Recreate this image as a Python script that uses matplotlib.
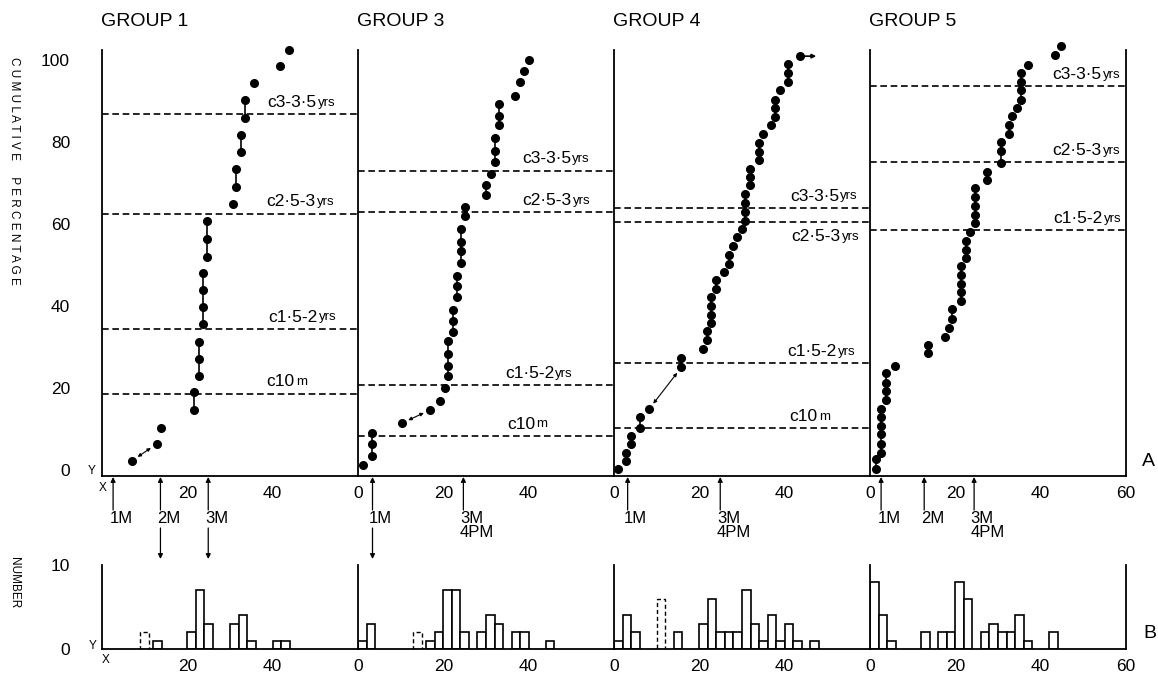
import matplotlib.pyplot as plt
from matplotlib.transforms import blended_transform_factory

plt.rcParams['font.family'] = ['Liberation Sans', 'DejaVu Sans']

# --- data -----------------------------------------------------------------
groups = ['GROUP 1', 'GROUP 3', 'GROUP 4', 'GROUP 5']

# A: cumulative percentage against age (months)
g1_age = [7.0, 12.8, 13.8, 21.6, 21.6, 22.8, 22.8, 22.8, 23.7, 23.7, 23.7, 23.7,
          24.7, 24.7, 24.7, 30.6, 31.5, 31.5, 32.6, 32.6, 33.6, 33.6, 35.6, 41.7, 43.9]
g1_cum = [2.2, 6.3, 10.3, 14.6, 18.9, 23.0, 27.0, 31.3, 35.6, 39.8, 43.9, 47.9,
          52.0, 56.3, 60.6, 64.9, 69.1, 73.4, 77.5, 81.7, 85.8, 90.1, 94.3, 98.4, 102.5]

g3_age = [1.1, 3.3, 3.3, 3.3, 10.3, 16.9, 19.3, 20.3, 21.2, 21.2, 21.2, 21.2,
          22.2, 22.2, 22.2, 23.2, 23.2, 23.2, 24.2, 24.2, 24.2, 24.2, 25.1, 25.1,
          30.0, 30.0, 31.2, 32.0, 32.0, 32.0, 33.0, 33.0, 33.0, 36.8, 38.0, 39.0, 40.0]
g3_cum = [1.1, 3.3, 6.3, 9.1, 11.4, 14.6, 16.8, 19.9, 23.0, 25.4, 28.3, 31.5,
          33.7, 36.4, 39.1, 42.1, 44.8, 47.4, 50.5, 53.3, 55.5, 58.7, 61.8, 64.1,
          67.1, 69.5, 72.2, 75.2, 77.7, 80.9, 84.0, 86.2, 89.3, 91.2, 94.5, 97.4, 99.9]

g4_age = [1.0, 2.8, 2.8, 3.9, 3.9, 6.0, 6.0, 8.2, 15.8, 15.8, 20.9, 21.9, 21.9,
          22.8, 22.8, 22.8, 22.8, 23.8, 23.8, 25.8, 26.9, 26.9, 27.9, 28.9, 29.9,
          30.8, 30.8, 30.8, 30.8, 31.8, 31.8, 31.8, 33.9, 33.9, 33.9, 34.9, 36.9,
          37.8, 37.8, 37.8, 38.8, 40.8, 40.8, 40.8, 43.7]
g4_cum = [0.2, 2.2, 4.2, 6.3, 8.3, 10.3, 12.8, 14.8, 25.0, 27.4, 29.5, 31.7, 33.8,
          35.8, 37.8, 39.9, 42.1, 44.0, 46.2, 48.2, 50.2, 52.5, 54.7, 56.7, 58.8,
          60.6, 63.0, 65.1, 67.2, 69.4, 71.4, 73.4, 75.5, 77.5, 79.7, 82.0, 84.0,
          86.0, 88.3, 90.3, 92.6, 94.6, 96.8, 98.9, 100.9]

g5_age = [1.3, 1.3, 2.6, 2.6, 2.6, 2.6, 2.6, 2.6, 3.7, 3.7, 3.7, 3.7, 5.8, 13.6,
          13.6, 17.5, 18.5, 19.3, 19.3, 21.4, 21.4, 21.4, 21.4, 21.4, 22.6, 22.6,
          22.6, 23.5, 24.6, 24.6, 24.6, 24.6, 24.6, 27.4, 27.4, 30.6, 30.6, 30.6,
          32.5, 32.5, 33.3, 34.4, 35.4, 35.4, 35.4, 35.4, 37.1, 43.4, 44.7]
g5_cum = [0.3, 2.6, 4.2, 6.4, 8.7, 10.7, 12.8, 14.8, 17.0, 19.3, 21.3, 23.5, 25.4,
          28.4, 30.5, 32.5, 34.5, 36.8, 39.2, 41.3, 43.3, 45.3, 47.6, 49.6, 51.6,
          53.7, 55.9, 58.1, 60.1, 62.2, 64.3, 66.5, 68.7, 70.6, 72.6, 74.8, 77.7,
          79.9, 82.0, 84.2, 86.2, 88.3, 90.3, 92.6, 94.6, 96.8, 98.8, 101.1, 103.3]

# dashed reference levels (cumulative %) and their labels
g1_lines = [86.7, 62.5, 34.4, 18.6]
g3_lines = [73.0, 62.8, 20.7, 8.3]
g4_lines = [63.9, 60.4, 26.0, 10.2]
g5_lines = [93.5, 75.1, 58.5]
g1_line_labels = [('c3-3·5', 'yrs'), ('c2·5-3', 'yrs'), ('c1·5-2', 'yrs'), ('c10', 'm')]
g3_line_labels = g1_line_labels
g4_line_labels = g1_line_labels
g5_line_labels = [('c3-3·5', 'yrs'), ('c2·5-3', 'yrs'), ('c1·5-2', 'yrs')]

# B: histogram, 2-month bins (left edge, count); dashed bar separately
g1_bin = [12, 20, 22, 24, 30, 32, 34, 40, 42]
g1_num = [1, 2, 7, 3, 3, 4, 1, 1, 1]
g3_bin = [0, 2, 16, 18, 20, 22, 24, 28, 30, 32, 36, 38, 44]
g3_num = [1, 3, 1, 2, 7, 7, 2, 2, 4, 3, 2, 2, 1]
g4_bin = [0, 2, 4, 14, 20, 22, 24, 26, 28, 30, 32, 34, 36, 38, 40, 42, 46]
g4_num = [1, 4, 2, 2, 3, 6, 2, 2, 2, 7, 3, 1, 4, 1, 3, 1, 1]
g5_bin = [0, 2, 4, 12, 16, 18, 20, 22, 26, 28, 30, 32, 34, 36, 42]
g5_num = [8, 4, 1, 2, 2, 2, 8, 6, 2, 3, 2, 2, 4, 1, 2]
dashed_bin = [9, 13, 10, None]
dashed_num = [2, 2, 6, None]

# milestones marked under the x axis (age, label, arrow also pointing down?)
g1_marks = [(2.6, '1M', False), (13.7, '2M', True), (24.9, '3M', True)]
g3_marks = [(3.4, '1M', True), (24.7, '3M\n4PM', False)]
g4_marks = [(3.2, '1M', False), (24.9, '3M\n4PM', False)]
g5_marks = [(2.6, '1M', False), (12.7, '2M', False), (24.4, '3M\n4PM', False)]

ages = [g1_age, g3_age, g4_age, g5_age]
cums = [g1_cum, g3_cum, g4_cum, g5_cum]
levels = [g1_lines, g3_lines, g4_lines, g5_lines]
level_labels = [g1_line_labels, g3_line_labels, g4_line_labels, g5_line_labels]
bins = [g1_bin, g3_bin, g4_bin, g5_bin]
nums = [g1_num, g3_num, g4_num, g5_num]
marks = [g1_marks, g3_marks, g4_marks, g5_marks]

# label x start for each dashed line (layout)
label_x = [[38.7, 38.6, 38.9, 38.6], [38.4, 38.6, 34.4, 34.9],
           [41.2, 41.6, 40.6, 41.1], [42.7, 42.7, 43.0]]

# --- figure ----------------------------------------------------------------
W, H = 1158, 675
fig = plt.figure(figsize=(W / 100, H / 100), dpi=100)


def fx(px):
    return px / W


def fy(px):
    return 1 - px / H


LW = 1.3
for i in range(4):
    left = 102 + 256 * i
    axt = fig.add_axes([fx(left), fy(476), 256 / W, (476 - 50) / H])
    axb = fig.add_axes([fx(left), fy(649), 256 / W, (649 - 565) / H])

    for ax in (axt, axb):
        ax.set_xlim(0, 60)
        ax.spines['top'].set_visible(False)
        ax.spines['right'].set_visible(i == 3)
        for s in ax.spines.values():
            s.set_linewidth(LW)
        ax.tick_params(length=0, labelsize=12.5)
        ax.tick_params(axis='x', pad=7)
        ax.tick_params(axis='y', pad=23)
        if i == 0:
            ax.set_xticks([20, 40])
        elif i < 3:
            ax.set_xticks([0, 20, 40])
        else:
            ax.set_xticks([0, 20, 40, 60])

    axt.set_ylim(-1.5, 102.4)
    axb.set_ylim(0, 10)
    if i == 0:
        axt.set_yticks([0, 20, 40, 60, 80, 100])
        axb.set_yticks([0, 10])
    else:
        axt.set_yticks([])
        axb.set_yticks([])

    # group title
    axt.text(-0.005, 1.066, groups[i], transform=axt.transAxes,
             ha='left', va='center', fontsize=14)

    # dashed reference lines with labels
    for j, v in enumerate(levels[i]):
        axt.axhline(v, color='black', lw=1.2, ls=(0, (4, 2.2)), zorder=1)
        main, suf = level_labels[i][j]
        below = (i == 2 and j == 1)
        t = axt.annotate(main, xy=(label_x[i][j], v),
                         xytext=(0, -5 if below else 3), textcoords='offset points',
                         ha='left', va='top' if below else 'bottom', fontsize=12.5)
        axt.annotate(suf, xy=(1, 0.08), xycoords=t, xytext=(1, 0),
                     textcoords='offset points', ha='left', va='bottom', fontsize=9.5)

    # points, with vertical links between points of equal age
    a, c = ages[i], cums[i]
    for k in range(len(a) - 1):
        if a[k] == a[k + 1]:
            axt.plot([a[k], a[k + 1]], [c[k], c[k + 1]], color='black', lw=1.2,
                     zorder=2)
    axt.plot(a, c, 'o', color='black', ms=5.5, clip_on=False, zorder=3)

    # histogram
    axb.bar(bins[i], nums[i], width=2, align='edge', facecolor='white',
            edgecolor='black', lw=1.2, zorder=2)
    if dashed_bin[i] is not None:
        axb.bar([dashed_bin[i]], [dashed_num[i]], width=2, align='edge',
                facecolor='white', edgecolor='black', lw=1.0, ls=(0, (3, 2)),
                zorder=2)

    # milestone arrows between the panels
    tr = blended_transform_factory(axt.transData, fig.transFigure)
    for x, lab, down in marks[i]:
        axt.annotate('', xy=(x, fy(477)), xycoords=('data', 'figure fraction'),
                     xytext=(x, fy(510)), textcoords=('data', 'figure fraction'),
                     arrowprops=dict(arrowstyle='-|>', color='black', lw=0.9,
                                     mutation_scale=7, shrinkA=0, shrinkB=0),
                     annotation_clip=False)
        axt.text(x - 0.8, fy(511), lab, transform=tr, ha='left', va='top',
                 fontsize=12, linespacing=0.9)
        if down:
            axt.annotate('', xy=(x, fy(559)), xycoords=('data', 'figure fraction'),
                         xytext=(x, fy(528)), textcoords=('data', 'figure fraction'),
                         arrowprops=dict(arrowstyle='-|>', color='black', lw=0.9,
                                         mutation_scale=7, shrinkA=0, shrinkB=0),
                         annotation_clip=False)

    # double arrows inside the panels
    arr = dict(arrowstyle='<|-|>', color='black', lw=0.8, mutation_scale=5,
               shrinkA=5, shrinkB=5)
    if i == 0:
        axt.annotate('', xy=(a[1], c[1]), xytext=(a[0], c[0]), arrowprops=arr)
    if i == 1:
        axt.annotate('', xy=(a[5], c[5]), xytext=(a[4], c[4]), arrowprops=arr)
    if i == 2:
        axt.annotate('', xy=(a[8], c[8]), xytext=(a[7], c[7]), arrowprops=arr)
        axt.annotate('', xy=(a[-1] + 3.7, c[-1]), xytext=(a[-1], c[-1]),
                     arrowprops=dict(arrowstyle='-|>', color='black', lw=1.2,
                                     mutation_scale=6, shrinkA=0, shrinkB=0),
                     annotation_clip=False)

# axis side labels (letter-spaced like the original) and letters
fig.text(fx(14), fy(171), ' '.join('CUMULATIVE') + '     ' + ' '.join('PERCENTAGE'),
         rotation=270, ha='center', va='center', fontsize=8.5)
fig.text(fx(14), fy(583), 'NUMBER', rotation=270, ha='center', va='center',
         fontsize=8.5)
fig.text(fx(92), fy(471), 'Y', ha='center', va='center', fontsize=8.5)
fig.text(fx(103), fy(488), 'X', ha='center', va='center', fontsize=8.5)
fig.text(fx(93), fy(646), 'Y', ha='center', va='center', fontsize=8.5)
fig.text(fx(106), fy(660), 'X', ha='center', va='center', fontsize=8.5)
fig.text(fx(1148), fy(462), 'A', ha='center', va='center', fontsize=14)
fig.text(fx(1150), fy(633), 'B', ha='center', va='center', fontsize=14)

fig.savefig('out.png', dpi=100)
